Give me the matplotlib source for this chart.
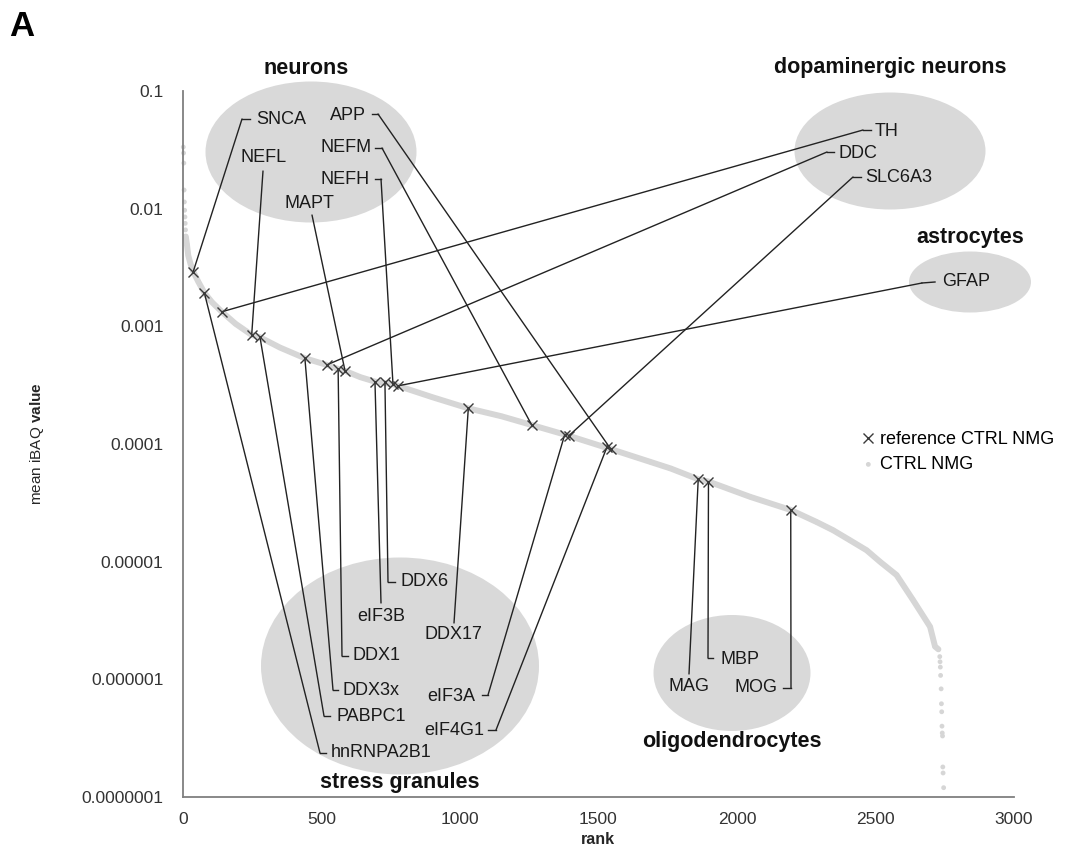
import matplotlib

matplotlib.use("Agg")
import matplotlib.pyplot as plt
from matplotlib.patches import ConnectionPatch, Ellipse
from matplotlib.transforms import Affine2D

plt.rcParams["font.family"] = ["Liberation Sans", "DejaVu Sans"]
plt.rcParams["mathtext.fontset"] = "custom"
plt.rcParams["mathtext.rm"] = "Liberation Sans"
plt.rcParams["mathtext.bf"] = "Liberation Sans:bold"

# ---- data ----
# most abundant proteins (rank ~1-9), drawn as a column of single dots at x~0
top_rank = [1, 2, 3, 4, 5, 6, 7, 8, 9]
top_ibaq = [0.0334, 0.0297, 0.0244, 0.0144, 0.0114, 0.0097, 0.0085, 0.0075, 0.0066]

# dense part of the ranking (dots overlap into a band)
band_rank = [10, 14, 19, 27, 37, 55, 77, 105, 140, 190, 248, 278, 350, 440, 519, 560,
             585, 640, 693, 729, 758, 776, 900, 1030, 1150, 1259, 1385, 1535, 1686,
             1760, 1860, 1897, 2047, 2194, 2288, 2347, 2408, 2468, 2516, 2576, 2636,
             2697, 2715, 2727]
band_ibaq = [0.0058, 0.0050, 0.0040, 0.0034, 0.00292, 0.0024, 0.00193, 0.0016, 0.00133,
             0.00105, 0.000845, 0.000807, 0.00066, 0.000536, 0.00047, 0.000435,
             0.000418, 0.00037, 0.000339, 0.00033, 0.000322, 0.000312, 0.00025,
             0.000201, 0.000172, 0.000145, 0.000119, 0.000092, 0.0000706, 0.000062,
             0.0000502, 0.000048, 0.0000356, 0.0000275, 0.0000217, 0.0000185,
             0.0000152, 0.0000125, 0.0000100, 0.0000077, 0.0000047, 0.0000028,
             0.0000019, 0.0000018]

# low-abundance tail, single dots
tail_rank = [2732, 2733, 2734, 2735, 2737, 2738, 2739, 2740, 2741, 2742, 2743, 2744, 2746]
tail_ibaq = [1.56e-6, 1.41e-6, 1.27e-6, 1.08e-6, 8.3e-7, 6.2e-7, 5.3e-7, 4.0e-7,
             3.5e-7, 3.3e-7, 1.8e-7, 1.6e-7, 1.2e-7]

# reference proteins (crosses)
ref_names = ["SNCA", "hnRNPA2B1", "TH", "NEFL", "PABPC1", "DDX3x", "DDC", "DDX1", "MAPT",
             "eIF3B", "DDX6", "NEFH", "GFAP", "DDX17", "NEFM", "eIF3A", "SLC6A3",
             "eIF4G1", "APP", "MAG", "MBP", "MOG"]
ref_rank = [37, 77, 140, 248, 278, 440, 519, 560, 585, 693, 729, 758, 776, 1030, 1259,
            1378, 1392, 1530, 1545, 1860, 1897, 2194]
ref_ibaq = [0.00292, 0.00193, 0.00133, 0.000845, 0.000807, 0.000536, 0.00047, 0.000435,
            0.000418, 0.000339, 0.000337, 0.000324, 0.000312, 0.000201, 0.000145,
            0.000120, 0.000117, 0.0000935, 0.0000900, 0.0000502, 0.000048, 0.0000275]

x_ticks = [0, 500, 1000, 1500, 2000, 2500, 3000]
y_ticks = [1e-1, 1e-2, 1e-3, 1e-4, 1e-5, 1e-6, 1e-7]
y_tick_labels = ["0.1", "0.01", "0.001", "0.0001", "0.00001", "0.000001", "0.0000001"]

# ---- layout (reference pixel coordinates, y downwards) ----
W, H = 1069, 850
groups = [  # title, title pos, ellipse centre, ellipse size
    ("neurons", (306, 68), (311, 152), (211, 141)),
    ("stress granules", (400, 783), (400, 666), (278, 217)),
    ("dopaminergic neurons", (890, 68), (890, 151), (191, 117)),
    ("astrocytes", (970, 238), (970, 282), (122, 61)),
    ("oligodendrocytes", (732, 742), (732, 673), (157, 116)),
]
# name: text left/centre, hook start (None = no hook), line start
labels = {
    "SNCA": ((256, 120), (250, 119), (242, 119)),
    "APP": ((330, 115), (372, 114), (378, 114)),
    "NEFL": ((240, 158), None, (263, 171)),
    "NEFM": ((320, 148), (375, 148), (382, 148)),
    "NEFH": ((320, 179), (375, 179), (381, 179)),
    "MAPT": ((285, 203), None, (312, 215)),
    "DDX6": ((400, 582), (395, 582), (388, 582)),
    "eIF3B": ((357, 617), None, (381, 603)),
    "DDX17": ((425, 635), None, (454, 623)),
    "DDX1": ((353, 656), (348, 656), (342, 656)),
    "DDX3x": ((343, 691), (338, 690), (333, 690)),
    "eIF3A": ((427, 697), (482, 695), (488, 695)),
    "PABPC1": ((336, 717), (330, 716), (324, 716)),
    "eIF4G1": ((424, 731), (488, 730), (496, 730)),
    "hnRNPA2B1": ((331, 753), (326, 753), (320, 753)),
    "TH": ((875, 131), (871, 130), (863, 130)),
    "DDC": ((838, 153), (834, 152), (827, 152)),
    "SLC6A3": ((865, 178), (861, 177), (853, 177)),
    "GFAP": ((942, 282), (935, 282), (922, 283)),
    "MBP": ((720, 660), (713, 658), (708, 658)),
    "MAG": ((668, 687), None, (689, 674)),
    "MOG": ((734, 688), (783, 688), (791, 688)),
}

fig = plt.figure(figsize=(W / 100, H / 100), dpi=100)
ax = fig.add_axes([183 / W, 1 - 797 / H, 831 / W, 706 / H])
pix = Affine2D().scale(1 / W, -1 / H).translate(0, 1) + fig.transFigure

ax.set_yscale("log")
ax.set_xlim(0, 3000)
ax.set_ylim(1e-7, 1e-1)
ax.set_xticks(x_ticks)
ax.set_yticks(y_ticks, labels=y_tick_labels)
ax.minorticks_off()
ax.tick_params(length=0, labelsize=12.5, colors="#333333")
ax.tick_params(axis="y", pad=14)
ax.tick_params(axis="x", pad=11)
for side in ("top", "right"):
    ax.spines[side].set_visible(False)
for side in ("left", "bottom"):
    ax.spines[side].set_color("#7f7f7f")
    ax.spines[side].set_linewidth(1.3)

dot_c = "#d6d6d6"
ax.plot(band_rank, band_ibaq, color=dot_c, lw=4.3, solid_capstyle="round", zorder=1)
dots = ax.scatter(top_rank + band_rank + tail_rank, top_ibaq + band_ibaq + tail_ibaq,
                  s=12, color=dot_c, edgecolors="none", zorder=1.5, clip_on=False)
refs, = ax.plot(ref_rank, ref_ibaq, ls="none", marker="x", ms=7, mew=1.0,
                color="#3a3a3a", zorder=3)

for title, tpos, centre, size in groups:
    ax.add_patch(Ellipse(centre, size[0], size[1], transform=pix, facecolor="#d9d9d9",
                         edgecolor="none", zorder=0.5, clip_on=False))
    ax.text(*tpos, title, transform=pix, ha="center", va="center", fontsize=15.5,
            fontweight="bold", color="#111111", zorder=4, clip_on=False)

for name, rk, val in zip(ref_names, ref_rank, ref_ibaq):
    tpos, hook, start = labels[name]
    ax.text(*tpos, name, transform=pix, ha="left", va="center", fontsize=13,
            color="#1a1a1a", zorder=4, clip_on=False)
    if hook is not None:
        ax.plot([hook[0], start[0]], [hook[1], start[1]], transform=pix, color="#222222",
                lw=1.0, zorder=2, clip_on=False)
    ax.add_artist(ConnectionPatch(start, (rk, val), coordsA=pix, coordsB=ax.transData,
                                  color="#222222", lw=1.0, zorder=2, clip_on=False))

ax.text(22, 26, "A", transform=pix, ha="center", va="center", fontsize=25,
        fontweight="bold", clip_on=False)
ax.text(37, 444, r"mean iBAQ $\mathbf{value}$", transform=pix, rotation=90,
        ha="center", va="center", fontsize=11, color="#262626", clip_on=False)
ax.text(598, 840, "rank", transform=pix, ha="center", va="center", fontsize=11.5,
        fontweight="bold", color="#262626", clip_on=False)

ax.legend([refs, dots], ["reference CTRL NMG", "CTRL NMG"], loc="upper left",
          bbox_to_anchor=(862 / W, 1 - 431 / H), bbox_transform=fig.transFigure,
          frameon=False, fontsize=13, handlelength=0.7, handletextpad=0.3,
          borderpad=0, borderaxespad=0, labelspacing=0.45, scatterpoints=1)

fig.savefig("out.png", dpi=100)
plt.close(fig)
